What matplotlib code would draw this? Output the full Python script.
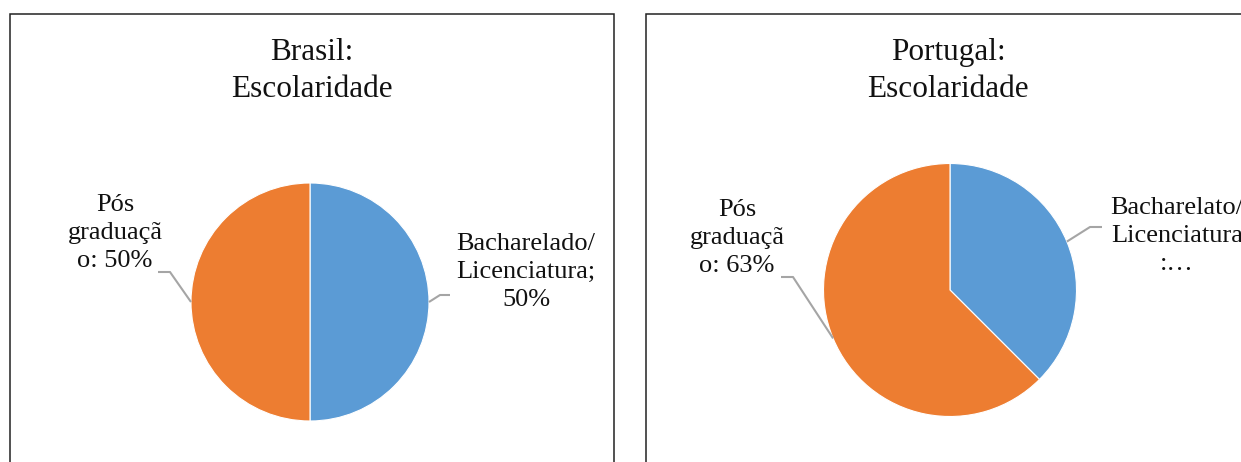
import numpy as np
import matplotlib
matplotlib.use("Agg")
import matplotlib.pyplot as plt
from matplotlib.patches import Rectangle

W, H = 1241, 462

# data
categorias = ["Bacharelado/Licenciatura", "Pós graduação"]
brasil = [50, 50]
portugal = [37.5, 62.5]
rot_brasil = ["Bacharelado/\nLicenciatura;\n50%", "Pós\ngraduaçã\no: 50%"]
rot_portugal = ["Bacharelato/\nLicenciatura\n:…", "Pós\ngraduaçã\no: 63%"]
titulos = ["Brasil:\nEscolaridade", "Portugal:\nEscolaridade"]
cores = ["#5B9BD5", "#ED7D31"]

plt.rcParams["font.family"] = ["Liberation Serif", "DejaVu Serif"]

fig = plt.figure(figsize=(W / 100, H / 100), dpi=100)
ax = fig.add_axes([0, 0, 1, 1])


def py(y):
    # pixel row (top down) -> data y
    return H - y


# panel frames
ax.add_patch(Rectangle((10, py(475)), 604, 461, fill=False, lw=1.1, ec="#222222"))
ax.add_patch(Rectangle((646, py(475)), 620, 461, fill=False, lw=1.1, ec="#222222"))

paineis = [
    dict(vals=brasil, rot=rot_brasil, tit=titulos[0], c=(310, 302), r=119,
         tx=312, lab=[(526, 272), (115, 233)],
         elbow=[[(440, 295), (450, 295)], [(170, 272), (158, 272)]]),
    dict(vals=portugal, rot=rot_portugal, tit=titulos[1], c=(950, 290), r=126.5,
         tx=948, lab=[(1177, 236), (737, 238)],
         elbow=[[(1090, 227), (1102, 227)], [(793, 277), (781, 277)]]),
]

for p in paineis:
    cx, cy = p["c"]
    wedges, _ = ax.pie(p["vals"], colors=cores, startangle=90, counterclock=False,
                       center=(cx, py(cy)), radius=p["r"],
                       wedgeprops=dict(edgecolor="white", linewidth=0.8))
    ax.text(p["tx"], py(71), p["tit"], ha="center", va="center",
            fontsize=22.5, linespacing=1.33, color="#111111")
    for w, txt, (lx, ly), pts in zip(wedges, p["rot"], p["lab"], p["elbow"]):
        ang = np.deg2rad((w.theta1 + w.theta2) / 2)
        x0 = cx + p["r"] * np.cos(ang)
        y0 = py(cy) + p["r"] * np.sin(ang)
        xs = [x0] + [q[0] for q in pts]
        ys = [y0] + [py(q[1]) for q in pts]
        ax.plot(xs, ys, color="#A5A5A5", lw=1.5, solid_capstyle="butt")
        ax.text(lx, py(ly), txt, ha="center", va="center", fontsize=19,
                linespacing=1.38, color="#111111", multialignment="center")

ax.set_xlim(0, W)
ax.set_ylim(0, H)
ax.set_aspect("auto")
ax.axis("off")

fig.savefig("out.png", dpi=100)
